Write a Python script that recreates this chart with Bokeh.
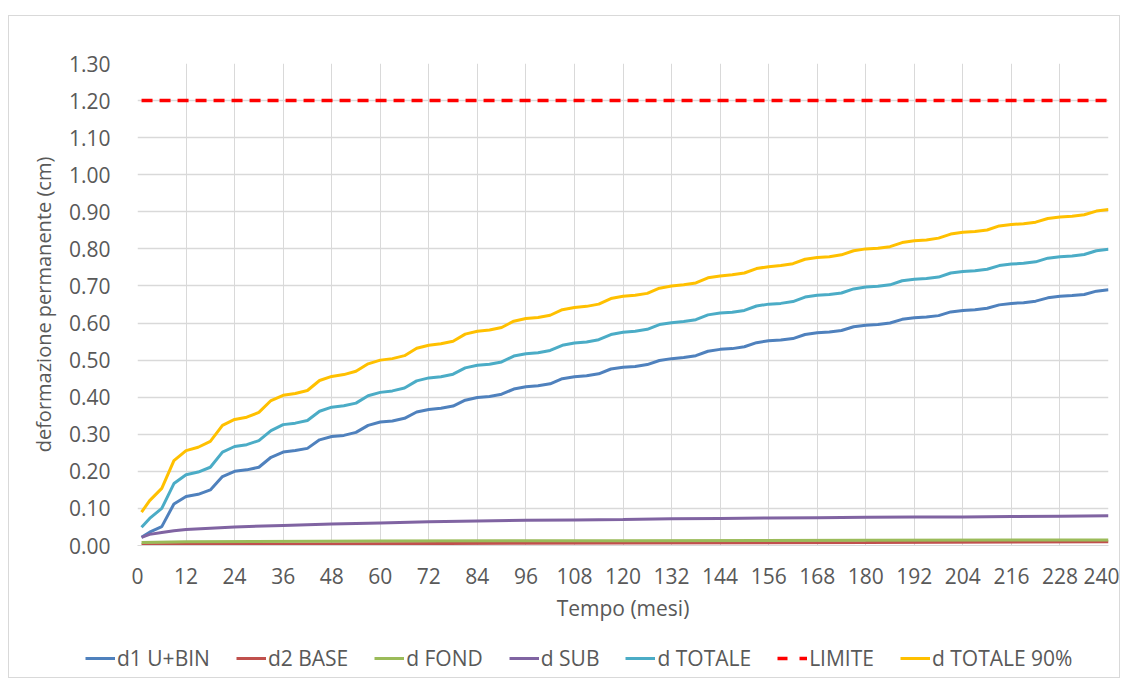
from bokeh.plotting import figure
from bokeh.layouts import column
from bokeh.models import (Legend, LegendItem, FixedTicker, NumeralTickFormatter, Range1d)
from bokeh.embed import file_html
from bokeh.resources import INLINE

# ---------------- data ----------------
months = [1, 3] + list(range(6, 241, 3))

d1_ubin = [0.022, 0.036, 0.051, 0.112, 0.132,
           0.138, 0.150, 0.186, 0.200,
           0.204, 0.211, 0.238, 0.252,
           0.256, 0.262, 0.285, 0.294,
           0.297, 0.305, 0.324, 0.333,
           0.336, 0.343, 0.360, 0.367,
           0.370, 0.376, 0.392, 0.399,
           0.402, 0.408, 0.422, 0.428,
           0.431, 0.436, 0.450, 0.455,
           0.458, 0.463, 0.476, 0.481,
           0.483, 0.488, 0.499, 0.504,
           0.507, 0.512, 0.524, 0.529,
           0.531, 0.536, 0.547, 0.552,
           0.554, 0.558, 0.569, 0.574,
           0.576, 0.580, 0.590, 0.594,
           0.596, 0.600, 0.610, 0.614,
           0.616, 0.620, 0.630, 0.634,
           0.636, 0.640, 0.649, 0.653,
           0.655, 0.659, 0.668, 0.672,
           0.674, 0.677, 0.686, 0.690]

d_totale = [0.049, 0.073, 0.100, 0.167, 0.191,
            0.198, 0.211, 0.252, 0.267,
            0.272, 0.283, 0.310, 0.326,
            0.330, 0.337, 0.362, 0.373,
            0.377, 0.384, 0.404, 0.413,
            0.417, 0.425, 0.444, 0.452,
            0.455, 0.462, 0.479, 0.486,
            0.489, 0.495, 0.511, 0.517,
            0.520, 0.526, 0.540, 0.546,
            0.549, 0.555, 0.569, 0.575,
            0.578, 0.583, 0.596, 0.601,
            0.604, 0.609, 0.622, 0.627,
            0.629, 0.634, 0.646, 0.651,
            0.653, 0.658, 0.670, 0.675,
            0.677, 0.681, 0.692, 0.697,
            0.699, 0.703, 0.714, 0.718,
            0.720, 0.724, 0.735, 0.739,
            0.741, 0.745, 0.755, 0.759,
            0.761, 0.765, 0.775, 0.779,
            0.781, 0.785, 0.795, 0.799]

d_totale_90 = [0.090, 0.121, 0.154, 0.229, 0.256,
               0.265, 0.281, 0.324, 0.340,
               0.346, 0.359, 0.391, 0.405,
               0.410, 0.418, 0.445, 0.456,
               0.461, 0.470, 0.490, 0.500,
               0.504, 0.512, 0.532, 0.540,
               0.544, 0.551, 0.570, 0.578,
               0.581, 0.588, 0.605, 0.612,
               0.615, 0.621, 0.636, 0.642,
               0.645, 0.651, 0.666, 0.672,
               0.675, 0.680, 0.694, 0.700,
               0.703, 0.708, 0.722, 0.727,
               0.730, 0.735, 0.747, 0.752,
               0.755, 0.760, 0.772, 0.777,
               0.779, 0.784, 0.795, 0.800,
               0.802, 0.806, 0.817, 0.822,
               0.824, 0.829, 0.840, 0.845,
               0.847, 0.851, 0.862, 0.866,
               0.868, 0.872, 0.882, 0.886,
               0.888, 0.892, 0.902, 0.906]

sub_months = [1, 3, 6, 9, 12, 24, 36, 48, 60, 72, 84, 96, 108, 120,
              132, 144, 156, 168, 180, 192, 204, 216, 228, 240]
d_sub = [0.022, 0.030, 0.035, 0.040, 0.043, 0.050, 0.054, 0.058, 0.061, 0.064,
         0.066, 0.068, 0.069, 0.070, 0.072, 0.073, 0.074, 0.075, 0.076, 0.077,
         0.077, 0.078, 0.079, 0.080]

low_months = [1, 12, 60, 120, 180, 240]
d2_base = [0.002, 0.003, 0.005, 0.007, 0.008, 0.010]
d_fond = [0.008, 0.010, 0.012, 0.013, 0.014, 0.015]

limit_months = [1, 240]
limite = [1.20, 1.20]

x_ticks = list(range(0, 241, 12))
y_ticks = [round(0.1 * i, 2) for i in range(0, 14)]

series_names = ["d1 U+BIN", "d2 BASE", "d FOND", "d SUB", "d TOTALE", "LIMITE", "d TOTALE 90%"]

# ---------------- styles ----------------
GRID = "#d9d9d9"
TXT = "#595959"
FONT = "Open Sans"
LW = 3
colors = ["#4F81BD", "#C0504D", "#9BBB59", "#8064A2", "#4BACC6", "#FF0000", "#FFC000"]

# ---------------- main figure ----------------
p = figure(width=1110, height=609, output_backend="svg", toolbar_location=None,
           x_range=Range1d(0, 240), y_range=Range1d(0, 1.30),
           min_border_left=128, min_border_right=11, min_border_top=47,
           min_border_bottom=80)
p.outline_line_color = None
p.background_fill_color = "white"
p.border_fill_color = "white"
p.frame_align = False

p.xaxis.ticker = FixedTicker(ticks=x_ticks)
p.yaxis.ticker = FixedTicker(ticks=y_ticks)
p.yaxis.formatter = NumeralTickFormatter(format="0.00")

p.xgrid.grid_line_color = GRID
p.ygrid.grid_line_color = GRID
p.xgrid.grid_line_width = 1
p.ygrid.grid_line_width = 1.5

for ax in (p.xaxis, p.yaxis):
    ax.major_tick_line_color = None
    ax.minor_tick_line_color = None
    ax.major_label_text_color = TXT
    ax.axis_label_text_color = TXT
    ax.axis_label_text_font_style = "normal"
    ax.major_label_text_font = FONT
    ax.axis_label_text_font = FONT

p.yaxis.axis_line_color = None
p.xaxis.axis_line_color = GRID
p.yaxis.major_label_text_font_size = "21px"
p.yaxis.major_label_standoff = 21
p.yaxis.axis_label = "deformazione permanente (cm)"
p.yaxis.axis_label_text_font_size = "20px"
p.yaxis.axis_label_standoff = 9

p.xaxis.major_label_text_font_size = "21px"
p.xaxis.major_label_standoff = 16
p.xaxis.axis_label = "Tempo (mesi)"
p.xaxis.axis_label_text_font_size = "21px"
p.xaxis.axis_label_standoff = 7

p.line(months, d1_ubin, line_color=colors[0], line_width=LW)
p.line(low_months, d2_base, line_color=colors[1], line_width=LW)
p.line(low_months, d_fond, line_color=colors[2], line_width=LW)
p.line(sub_months, d_sub, line_color=colors[3], line_width=LW)
p.line(months, d_totale, line_color=colors[4], line_width=LW)
p.line(limit_months, limite, line_color=colors[5], line_width=3.5, line_dash="11 7")
p.line(months, d_totale_90, line_color=colors[6], line_width=LW)

# ---------------- legend strip ----------------
pl = figure(width=1110, height=52, output_backend="svg", toolbar_location=None,
            x_axis_type=None, y_axis_type=None,
            x_range=Range1d(0, 1), y_range=Range1d(0, 1),
            min_border=0)
pl.outline_line_color = None
pl.grid.visible = False
pl.border_fill_color = "white"
pl.frame_align = False

items = []
for i, name in enumerate(series_names):
    # off-range proxy line: only its legend swatch is visible
    if name == "LIMITE":
        r = pl.line([5, 6], [5, 5], line_color=colors[i], line_width=3.5, line_dash="10 12")
    else:
        r = pl.line([5, 6], [5, 5], line_color=colors[i], line_width=LW)
    items.append(LegendItem(label=name, renderers=[r]))

legend = Legend(items=items, orientation="horizontal", location=(76, 5))
legend.border_line_color = None
legend.background_fill_alpha = 0
legend.label_text_font = FONT
legend.label_text_font_size = "21px"
legend.label_text_color = TXT
legend.glyph_width = 30
legend.glyph_height = 20
legend.label_standoff = 2
legend.spacing = 26
legend.margin = 0
legend.padding = 0
pl.add_layout(legend)

layout = column(p, pl, spacing=0,
                styles={"border": "1px solid #d9d9d9", "margin-top": "15px", "margin-left": "8px"})

open("out.html", "w").write(file_html(layout, INLINE))
